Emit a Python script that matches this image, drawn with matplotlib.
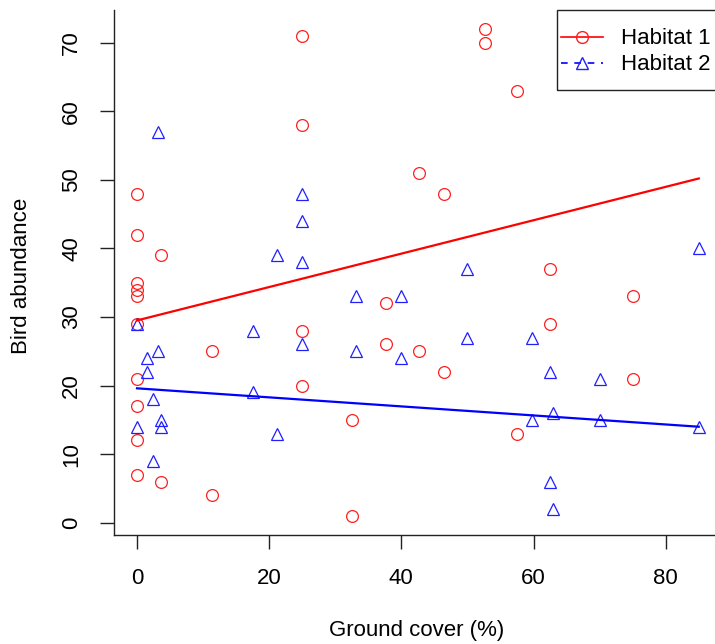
import numpy as np
import matplotlib
matplotlib.use("Agg")
import matplotlib.pyplot as plt
from matplotlib.patches import Rectangle

plt.rcParams['font.family'] = ['Liberation Sans', 'DejaVu Sans']

# Habitat 1 (red circles)
h1_cover = [0, 0, 0, 0, 0, 0, 0, 0, 0, 0, 3.7, 3.7, 11.3, 11.3, 25, 25, 25, 25,
            32.6, 32.6, 37.6, 37.6, 42.6, 42.6, 46.4, 46.4, 52.6, 52.6,
            57.5, 57.5, 62.5, 62.5, 75, 75]
h1_birds = [48, 42, 35, 34, 33, 29, 21, 17, 12, 7, 39, 6, 25, 4, 71, 58, 28, 20,
            15, 1, 32, 26, 51, 25, 48, 22, 72, 70,
            63, 13, 37, 29, 33, 21]

# Habitat 2 (blue triangles)
h2_cover = [3.2, 25, 25, 21.2, 25, 0, 17.5, 25, 3.2, 1.5, 1.5, 17.5, 2.4, 3.6,
            3.6, 0, 21.2, 2.4, 50, 33.2, 40, 50, 33.2, 40, 59.7, 62.5, 70, 63,
            59.7, 70, 85, 62.5, 63, 85]
h2_birds = [57, 48, 44, 39, 38, 29, 28, 26, 25, 24, 22, 19, 18, 15,
            14, 14, 13, 9, 37, 33, 33, 27, 25, 24, 27, 22, 21, 16,
            15, 15, 14, 6, 2, 40]

# fitted lines
fit_cover = [0, 85]
h1_fit = [29.5, 50.2]
h2_fit = [19.6, 14.0]

x_ticks = [0, 20, 40, 60, 80]
y_ticks = [0, 10, 20, 30, 40, 50, 60, 70]

fig = plt.figure(figsize=(7.15, 6.44), dpi=100)
ax = fig.add_axes([0.15944, 0.16925, 0.84755, 0.81522])

ax.plot(h1_cover, h1_birds, linestyle='none', marker='o', markersize=8.5,
        markerfacecolor='none', markeredgecolor='#ff2020', markeredgewidth=0.9)
ax.plot(h2_cover, h2_birds, linestyle='none', marker='^', markersize=8.5,
        markerfacecolor='none', markeredgecolor='#2020ff', markeredgewidth=0.9)
ax.plot(fit_cover, h1_fit, color='red', linewidth=1.6)
ax.plot(fit_cover, h2_fit, color='blue', linewidth=1.6)

ax.set_xlim(-3.48, 88.21)
ax.set_ylim(-1.79, 74.77)
ax.set_xticks(x_ticks)
ax.set_yticks(y_ticks)

for s in ['top', 'right']:
    ax.spines[s].set_visible(False)
for s in ['left', 'bottom']:
    ax.spines[s].set_linewidth(1.0)
    ax.spines[s].set_color('#222222')

ax.tick_params(axis='x', length=10, width=1.0, pad=14, labelsize=16, color='#222222')
ax.tick_params(axis='y', length=10, width=1.0, pad=13, labelsize=16, color='#222222')
for lab in ax.get_yticklabels():
    lab.set_rotation(90)
    lab.set_verticalalignment('center')

ax.set_xlabel("Ground cover (%)", fontsize=16, va='center')
ax.xaxis.set_label_coords(0.5, -95 / 525)
ax.set_ylabel("Bird abundance", fontsize=16, va='center')
ax.yaxis.set_label_coords(-92.3 / 606, 0.493)

# legend box (R style, runs off the right edge)
fig.patches.append(Rectangle((557 / 715, 1 - 90 / 644), (722 - 557) / 715, 80 / 644,
                             transform=fig.transFigure, fill=False,
                             edgecolor='#222222', linewidth=1.0))

h1_handle, = ax.plot([], [], color='red', linewidth=1.2, marker='o', markersize=8.5,
                     markerfacecolor='none', markeredgecolor='#ff2020')
h2_handle, = ax.plot([], [], color='blue', linewidth=1.2, linestyle=(0, (4, 4)),
                     marker='^', markersize=8.5, markerfacecolor='none',
                     markeredgecolor='#2020ff')
leg = fig.legend([h1_handle, h2_handle], ["Habitat 1", "Habitat 2"],
                 loc='upper left', bbox_to_anchor=(557 / 715, 1 - 24 / 644),
                 borderaxespad=0, fontsize=16, handlelength=1.85,
                 handletextpad=0.85, labelspacing=0.22, borderpad=0.2,
                 frameon=False)

plt.savefig('out.png', dpi=100)
